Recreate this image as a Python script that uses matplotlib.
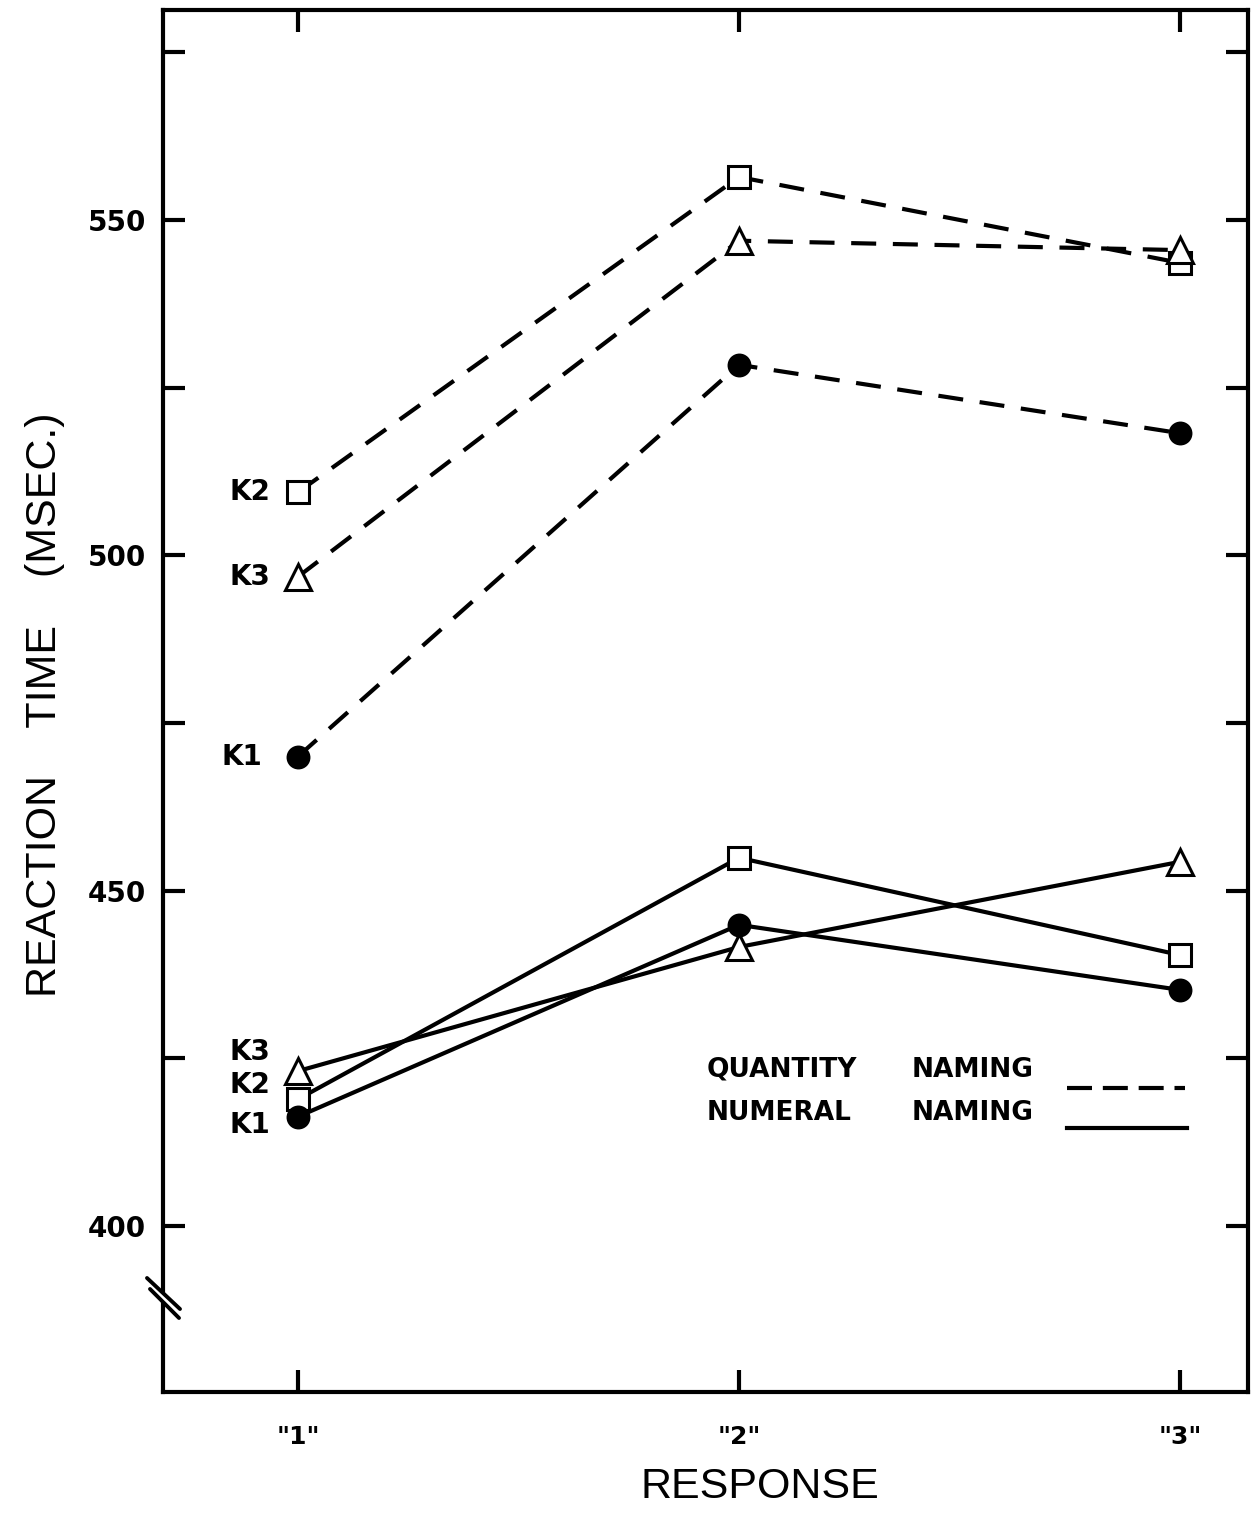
import matplotlib.pyplot as plt
from matplotlib.ticker import FixedLocator, NullFormatter

responses = [1, 2, 3]
response_labels = ['"1"', '"2"', '"3"']

# quantity naming (dashed)
quantity_k1 = [470.0, 528.4, 518.2]
quantity_k2 = [509.4, 556.4, 543.6]
quantity_k3 = [496.8, 546.9, 545.5]

# numeral naming (solid)
numeral_k1 = [416.3, 444.9, 435.2]
numeral_k2 = [418.9, 454.9, 440.4]
numeral_k3 = [423.1, 441.6, 454.3]

major_ticks = [400, 450, 500, 550]
minor_ticks = [425, 475, 525, 575]


def main():
    fig = plt.figure(figsize=(12.58, 15.13), dpi=100)
    ax = fig.add_axes([163 / 1258, 121 / 1513, 1085 / 1258, 1382 / 1513])

    lw = 3.0
    dash = (6, 4)
    mk = dict(mec='black', mew=2.2, color='black', lw=lw, clip_on=False)

    ax.plot(responses, quantity_k2, marker='s', ms=16, mfc='white', dashes=dash, zorder=4, **mk)
    ax.plot(responses, quantity_k3, marker='^', ms=19, mfc='white', dashes=dash, zorder=4, **mk)
    ax.plot(responses, quantity_k1, marker='o', ms=15, mfc='black', dashes=dash, zorder=4, **mk)

    ax.plot(responses, numeral_k3, marker='^', ms=19, mfc='white', zorder=4, **mk)
    ax.plot(responses, numeral_k2, marker='s', ms=16, mfc='white', zorder=4, **mk)
    ax.plot(responses, numeral_k1, marker='o', ms=15, mfc='black', zorder=5, **mk)

    ax.set_xlim(0.694, 3.154)
    ax.set_ylim(375.25, 581.3)

    ax.set_xticks(responses)
    ax.set_xticklabels(response_labels)
    ax.yaxis.set_major_locator(FixedLocator(major_ticks))
    ax.yaxis.set_minor_locator(FixedLocator(minor_ticks))
    ax.yaxis.set_minor_formatter(NullFormatter())
    ax.set_yticklabels([str(v) for v in major_ticks])

    ax.tick_params(axis='both', which='both', direction='in', length=16, width=3,
                   top=True, right=True)
    ax.tick_params(axis='y', which='major', pad=12, labelsize=20)
    ax.tick_params(axis='x', which='major', pad=24, labelsize=18)
    for lab in ax.get_xticklabels() + ax.get_yticklabels():
        lab.set_fontweight('bold')

    for sp in ax.spines.values():
        sp.set_linewidth(3)

    # K labels next to the "1" points
    kprops = dict(fontsize=20, fontweight='bold', ha='right', va='center')
    ax.text(0.937, quantity_k2[0], 'K2', **kprops)
    ax.text(0.937, quantity_k3[0], 'K3', **kprops)
    ax.text(0.918, quantity_k1[0], 'K1', **kprops)
    ax.text(0.937, 425.9, 'K3', **kprops)
    ax.text(0.937, 421.0, 'K2', **kprops)
    ax.text(0.937, 415.0, 'K1', **kprops)

    # legend
    lprops = dict(fontsize=19, fontweight='bold', va='center', transform=ax.transAxes)
    ax.text((707 - 163) / 1085, (1392 - 1070) / 1382, 'QUANTITY', **lprops)
    ax.text((912 - 163) / 1085, (1392 - 1070) / 1382, 'NAMING', **lprops)
    ax.text((707 - 163) / 1085, (1392 - 1113) / 1382, 'NUMERAL', **lprops)
    ax.text((912 - 163) / 1085, (1392 - 1113) / 1382, 'NAMING', **lprops)
    ax.plot([(1067 - 163) / 1085, (1185 - 163) / 1085], [(1392 - 1088) / 1382] * 2,
            transform=ax.transAxes, color='black', lw=lw, dashes=(6, 2.6))
    ax.plot([(1067 - 163) / 1085, (1187 - 163) / 1085], [(1392 - 1128) / 1382] * 2,
            transform=ax.transAxes, color='black', lw=lw)

    # axis break marks
    def ax_xy(px, py):
        return (px - 163) / 1085, (1392 - py) / 1382

    (x0, y0), (x1, y1) = ax_xy(149, 1284), ax_xy(179, 1313)
    ax.plot([x0, x1], [y0, y1], transform=ax.transAxes, color='white', lw=3,
            clip_on=False, zorder=6)
    for a, b in [((147, 1278), (180, 1309)), ((150, 1289), (179, 1318))]:
        (x0, y0), (x1, y1) = ax_xy(*a), ax_xy(*b)
        ax.plot([x0, x1], [y0, y1], transform=ax.transAxes, color='black', lw=2.8,
                clip_on=False, zorder=7, solid_capstyle='round')

    fig.text(45 / 1258, 1 - 705 / 1513, 'REACTION    TIME    (MSEC.)', rotation=90,
             ha='center', va='center', fontsize=31, family=['Liberation Sans', 'DejaVu Sans'])
    fig.text(760 / 1258, 1 - 1487 / 1513, 'RESPONSE', ha='center', va='center',
             fontsize=31, family=['Liberation Sans', 'DejaVu Sans'])

    fig.savefig('out.png', dpi=100)


if __name__ == '__main__':
    main()
